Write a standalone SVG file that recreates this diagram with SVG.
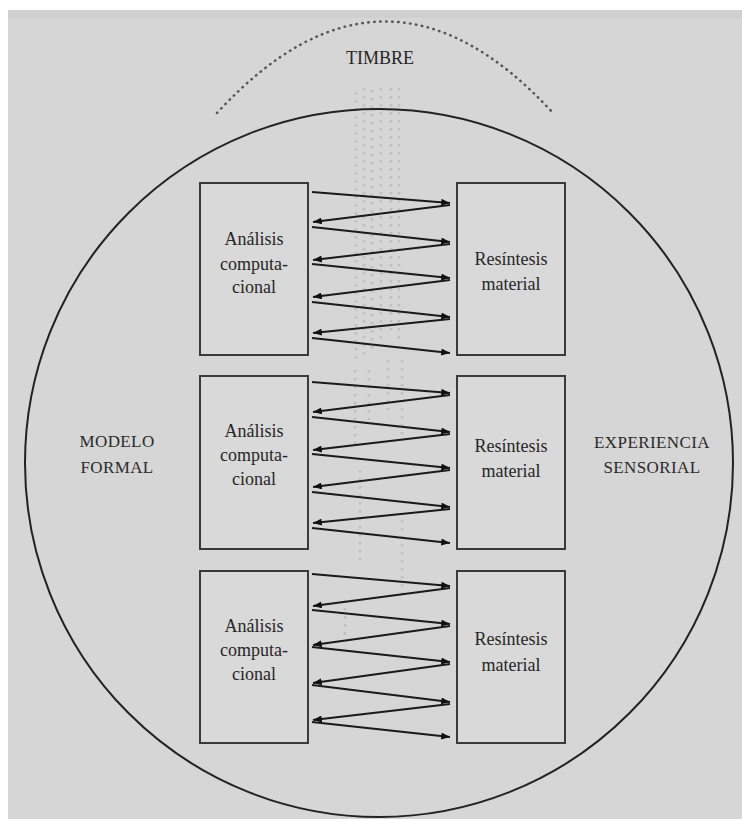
<svg xmlns="http://www.w3.org/2000/svg" width="742" height="819" viewBox="0 0 742 819">
<defs>
<style>
.lbl{font-family:"Liberation Serif","DejaVu Serif","Times New Roman",serif;font-size:18px;fill:#262626;text-anchor:middle}
.cap{font-family:"Liberation Serif","DejaVu Serif","Times New Roman",serif;font-size:17px;fill:#2a2a2a;text-anchor:middle;letter-spacing:0.4px}
.box{fill:#d9d9d9;stroke:#3a3a3a;stroke-width:2}
.arr{stroke:#1a1a1a;stroke-width:2;fill:none;marker-end:url(#ah)}
.faint{stroke:#aaaaaa;stroke-width:2.5;stroke-dasharray:2.5 5.5;fill:none}
</style>
<marker id="ah" viewBox="0 0 10 8" refX="10" refY="4" markerWidth="9" markerHeight="7" markerUnits="userSpaceOnUse" orient="auto">
<path d="M0,0 L10,4 L0,8 Z" fill="#111"/>
</marker>
</defs>
<rect x="0" y="0" width="742" height="819" fill="#ffffff"/>
<rect x="8" y="10" width="734" height="809" fill="#d6d6d6"/>
<rect x="8" y="10" width="734" height="8" fill="#d0d0d0"/>

<g id="timbre">
<path d="M217,113 Q385,-70 553,113" fill="none" stroke="#555" stroke-width="2.5" stroke-linecap="round" stroke-dasharray="0.5 5.5"/>
<text class="lbl" x="380" y="64">TIMBRE</text>
<g opacity="0.5">
<line class="faint" x1="356" y1="92" x2="356" y2="360"/>
<line class="faint" x1="364" y1="88" x2="364" y2="360"/>
<line class="faint" x1="372" y1="90" x2="372" y2="350"/>
<line class="faint" x1="381" y1="88" x2="381" y2="340"/>
<line class="faint" x1="391" y1="88" x2="391" y2="330"/>
<line class="faint" x1="399" y1="88" x2="399" y2="340"/>
<line class="faint" x1="355" y1="370" x2="355" y2="450"/>
<line class="faint" x1="369" y1="370" x2="369" y2="420"/>
<line class="faint" x1="388" y1="360" x2="388" y2="410"/>
<line class="faint" x1="402" y1="360" x2="402" y2="440"/>
<line class="faint" x1="360" y1="470" x2="360" y2="560"/>
<line class="faint" x1="402" y1="520" x2="402" y2="600"/>
<line class="faint" x1="345" y1="600" x2="345" y2="640"/>
</g>
</g>

<g id="outer-circle">
<circle cx="379" cy="463" r="354" fill="none" stroke="#222" stroke-width="2"/>
</g>

<g id="modelo-formal">
<text class="cap" x="117" y="447">MODELO</text>
<text class="cap" x="117" y="473">FORMAL</text>
</g>
<g id="experiencia-sensorial">
<text class="cap" x="652" y="448">EXPERIENCIA</text>
<text class="cap" x="652" y="473">SENSORIAL</text>
</g>

<g id="analisis-1">
<rect class="box" x="200" y="183" width="108" height="172"/>
<text class="lbl" x="254" y="245">Análisis</text>
<text class="lbl" x="254" y="270">computa-</text>
<text class="lbl" x="254" y="293">cional</text>
</g>
<g id="resintesis-1">
<rect class="box" x="457" y="183" width="108" height="172"/>
<text class="lbl" x="511" y="265">Resíntesis</text>
<text class="lbl" x="511" y="290">material</text>
</g>
<g id="analisis-2">
<rect class="box" x="200" y="376" width="108" height="173"/>
<text class="lbl" x="254" y="437">Análisis</text>
<text class="lbl" x="254" y="461">computa-</text>
<text class="lbl" x="254" y="485">cional</text>
</g>
<g id="resintesis-2">
<rect class="box" x="457" y="376" width="108" height="173"/>
<text class="lbl" x="511" y="452">Resíntesis</text>
<text class="lbl" x="511" y="477">material</text>
</g>
<g id="analisis-3">
<rect class="box" x="200" y="571" width="108" height="172"/>
<text class="lbl" x="254" y="632">Análisis</text>
<text class="lbl" x="254" y="656">computa-</text>
<text class="lbl" x="254" y="680">cional</text>
</g>
<g id="resintesis-3">
<rect class="box" x="457" y="571" width="108" height="172"/>
<text class="lbl" x="511" y="645">Resíntesis</text>
<text class="lbl" x="511" y="671">material</text>
</g>

<g id="connectors">
<line class="arr" x1="312" y1="192" x2="450" y2="203"/>
<line class="arr" x1="450" y1="205" x2="313" y2="222"/>
<line class="arr" x1="312" y1="227" x2="450" y2="242"/>
<line class="arr" x1="450" y1="244" x2="313" y2="260"/>
<line class="arr" x1="312" y1="264" x2="450" y2="278"/>
<line class="arr" x1="450" y1="280" x2="313" y2="297"/>
<line class="arr" x1="312" y1="302" x2="450" y2="317"/>
<line class="arr" x1="450" y1="319" x2="313" y2="333"/>
<line class="arr" x1="312" y1="338" x2="450" y2="353"/>

<line class="arr" x1="312" y1="382" x2="450" y2="393"/>
<line class="arr" x1="450" y1="395" x2="313" y2="412"/>
<line class="arr" x1="312" y1="417" x2="450" y2="432"/>
<line class="arr" x1="450" y1="434" x2="313" y2="450"/>
<line class="arr" x1="312" y1="454" x2="450" y2="468"/>
<line class="arr" x1="450" y1="470" x2="313" y2="487"/>
<line class="arr" x1="312" y1="492" x2="450" y2="507"/>
<line class="arr" x1="450" y1="509" x2="313" y2="523"/>
<line class="arr" x1="312" y1="528" x2="450" y2="543"/>

<line class="arr" x1="312" y1="574" x2="450" y2="586"/>
<line class="arr" x1="450" y1="588" x2="313" y2="606"/>
<line class="arr" x1="312" y1="610" x2="450" y2="624"/>
<line class="arr" x1="450" y1="626" x2="313" y2="645"/>
<line class="arr" x1="312" y1="647" x2="450" y2="662"/>
<line class="arr" x1="450" y1="664" x2="313" y2="683"/>
<line class="arr" x1="312" y1="685" x2="450" y2="702"/>
<line class="arr" x1="450" y1="704" x2="313" y2="720"/>
<line class="arr" x1="312" y1="722" x2="450" y2="737"/>
</g>
</svg>
